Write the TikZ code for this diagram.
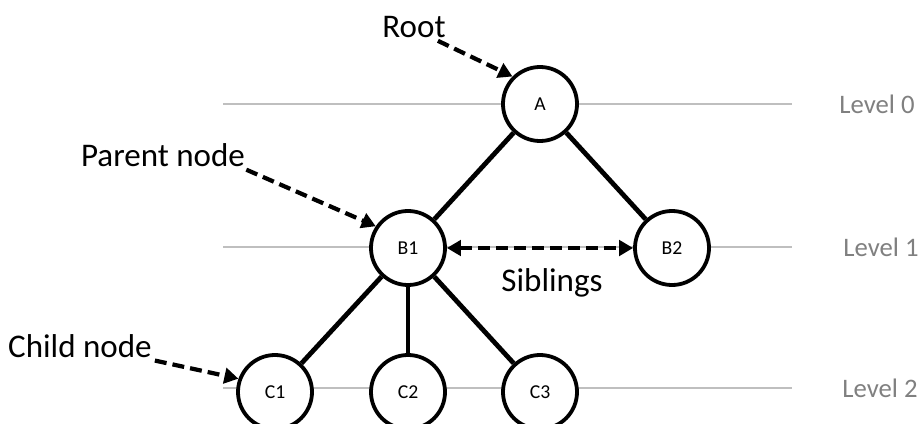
\documentclass[tikz,border=0pt]{standalone}
\usepackage{fontspec}
\setmainfont{Carlito}
\usetikzlibrary{arrows.meta}

\begin{document}
\begin{tikzpicture}[
    x=0.025cm, y=0.025cm,
    >={Triangle[length=10pt,width=11pt]},
    treenode/.style={circle, draw, line width=2.7pt, fill=white, minimum size=1.85cm, inner sep=0pt, font=\fontsize{14}{16}\selectfont},
    branch/.style={line width=3.4pt},
    pointer/.style={->, line width=3pt, dash pattern=on 8.5pt off 4.3pt},
    note/.style={inner sep=2pt, font=\fontsize{23.5}{27}\selectfont},
    levelline/.style={draw=black!25, line width=1.8pt},
    levellabel/.style={inner sep=2pt, text=black!50, font=\fontsize{19}{22}\selectfont}
]
\clip (0,0) rectangle (920,423);

% Level lines
\coordinate (l0a) at (223,319); \coordinate (l0b) at (792,319);
\coordinate (l1a) at (223,176); \coordinate (l1b) at (792,176);
\coordinate (l2a) at (223,35);  \coordinate (l2b) at (792,35);
\draw[levelline] (l0a) -- (l0b);
\draw[levelline] (l1a) -- (l1b);
\draw[levelline] (l2a) -- (l2b);

\node[levellabel] (lvl0) at (877,319) {Level 0};
\node[levellabel] (lvl1) at (881,176) {Level 1};
\node[levellabel] (lvl2) at (880,35) {Level 2};

% Tree
\node[treenode] (A) at (540,319) {A};
\node[treenode] (B1) at (408,175) {B1};
\node[treenode] (B2) at (672,175) {B2};
\node[treenode] (C1) at (275,31) {C1};
\node[treenode] (C2) at (408,31) {C2};
\node[treenode] (C3) at (540,31) {C3};

\draw[branch] (A) -- (B1);
\draw[branch] (A) -- (B2);
\draw[branch] (B1) -- (C1);
\draw[branch] (B1) -- (C2);
\draw[branch] (B1) -- (C3);

% Annotations
\node[note] (root) at (414,396) {Root};
\node[note] (parent) at (163,268) {Parent node};
\node[note] (child) at (80,77) {Child node};
\node[note] (sib) at (552,140) {Siblings};

\draw[pointer] (root.-30) -- (A.135);
\draw[pointer] (parent.-10) -- (B1.146);
\draw[pointer] (child.-11) -- (C1.160);
\draw[pointer, <->] (B1) -- (B2);

\end{tikzpicture}
\end{document}
